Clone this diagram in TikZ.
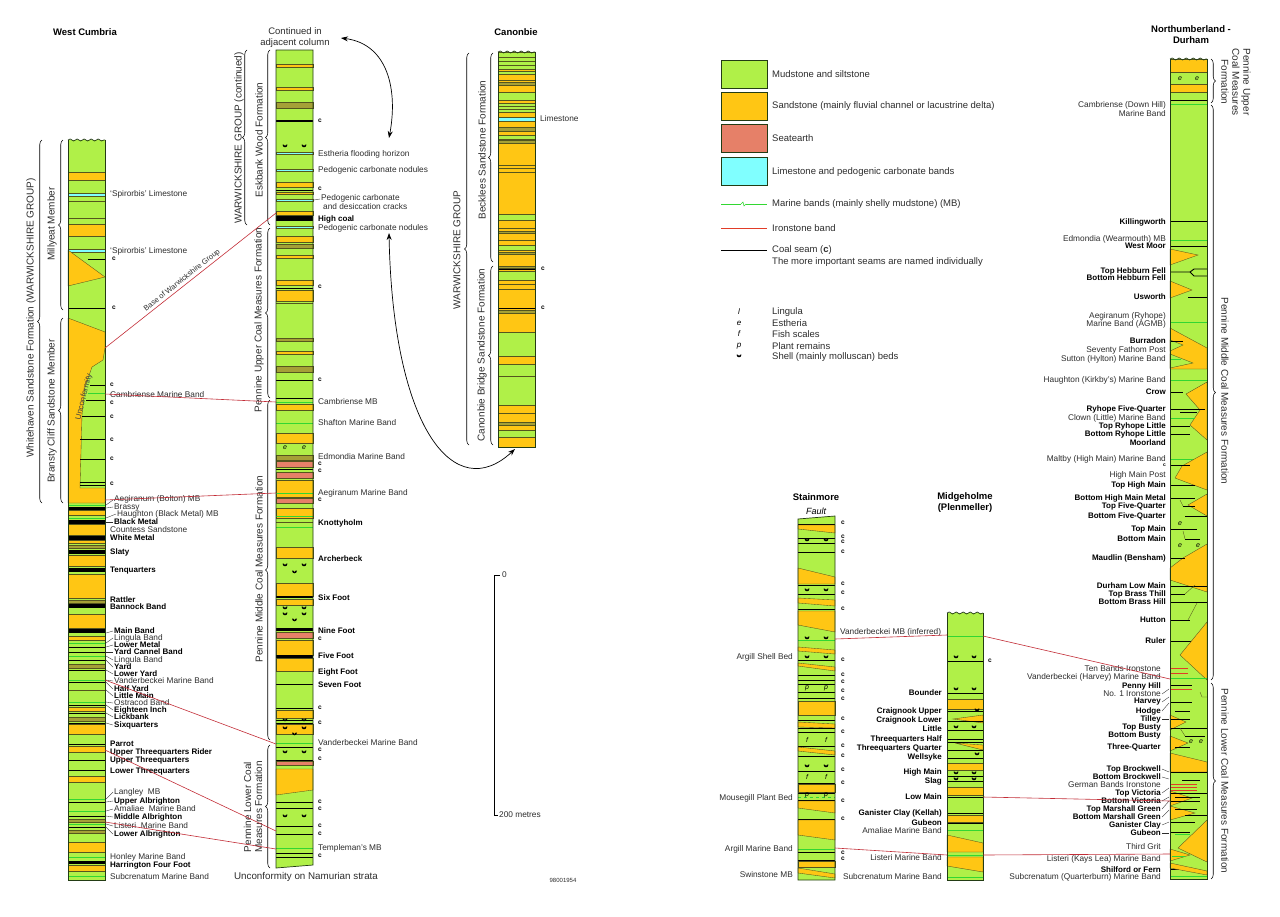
\documentclass[tikz,border=0pt]{standalone}
\usepackage{fontspec}
\setmainfont{Liberation Sans}
\usetikzlibrary{decorations.pathreplacing,decorations.pathmorphing,arrows.meta}
\definecolor{mud}{RGB}{176,240,72}
\definecolor{sand}{RGB}{255,198,20}
\definecolor{seat}{RGB}{230,128,104}
\definecolor{limec}{RGB}{128,255,255}
\definecolor{olv}{RGB}{165,160,55}
\definecolor{bndc}{RGB}{85,85,30}
\definecolor{mbc}{RGB}{50,215,50}
\definecolor{ironc}{RGB}{225,60,40}
\definecolor{corr}{RGB}{195,45,55}
\definecolor{labgray}{RGB}{45,45,45}
\definecolor{outc}{RGB}{35,60,20}
\newcounter{labc}
\newcommand\Bsand[2]{\filldraw[sandb] (\xa,#1) rectangle (\xb,#2);}
\newcommand\Bmud[2]{\filldraw[mudb] (\xa,#1) rectangle (\xb,#2);}
\newcommand\Bolive[2]{\filldraw[olvb] (\xa,#1) rectangle (\xb,#2);}
\newcommand\Bseat[2]{\filldraw[seatb] (\xa,#1) rectangle (\xb,#2);}
\newcommand\Blime[2]{\filldraw[limeb] (\xa,#1) rectangle (\xb,#2);}
\newcommand\Bcoal[1]{\draw[coalln] (\xa,#1) -- (\xb,#1);}
\newcommand\Bcoalt[2]{\fill[black] (\xa,#1) rectangle (\xb,#2);}
\newcommand\Bmb[1]{\draw[mbln] (\xa,#1) -- (\xb,#1);}
\newcommand\Bline[1]{\draw[bndln] (\xa,#1) -- (\xb,#1);}
\newcommand\Bshell[2]{\fill[black] (#1-2.5,#2-1.5) .. controls (#1-2.5,#2+2.2) and (#1+2.5,#2+2.2) .. (#1+2.5,#2-1.5) -- (#1+1.2,#2-1.5) .. controls (#1+1.2,#2+0.6) and (#1-1.2,#2+0.6) .. (#1-1.2,#2-1.5) -- cycle;}
\newcommand\Bshells[1]{\Bshell{\xa+9}{#1}\Bshell{\xb-9}{#1}}
\newcommand\Bframe[2]{\draw[colout] (\xa,#1) -- (\xa,#2) -- (\xb,#2) -- (\xb,#1);}
\newcommand\Bwavy[1]{\draw[colout,wavy] (\xa,#1) -- (\xb,#1);}
\newcommand\LW[3]{\stepcounter{labc}\node[lab,anchor=west] (lab\arabic{labc}) at (#1,#2) {#3};}
\newcommand\LWb[3]{\stepcounter{labc}\node[blab,anchor=west] (lab\arabic{labc}) at (#1,#2) {#3};}
\newcommand\LE[3]{\stepcounter{labc}\node[lab,anchor=east] (lab\arabic{labc}) at (#1,#2) {#3};}
\newcommand\LEb[3]{\stepcounter{labc}\node[blab,anchor=east] (lab\arabic{labc}) at (#1,#2) {#3};}
\newcommand\Cl[2]{\stepcounter{labc}\node[clab,anchor=west] (lab\arabic{labc}) at (#1,#2) {c};}
\newcommand\Fos[3]{\stepcounter{labc}\node[fos] (lab\arabic{labc}) at (#1,#2) {#3};}
\newcommand\Ld[4]{\draw[lead] (#1,#2) -- (#3,#4);}
\begin{document}
\begin{tikzpicture}[x=1pt,y=-1pt,
 sandb/.style={fill=sand,draw=bndc,line width=0.35pt},
 mudb/.style={fill=mud,draw=bndc,line width=0.35pt},
 olvb/.style={fill=olv,draw=bndc,line width=0.35pt},
 seatb/.style={fill=seat,draw=bndc,line width=0.35pt},
 limeb/.style={fill=limec,draw=bndc,line width=0.35pt},
 coalln/.style={draw=black,line width=0.9pt},
 mbln/.style={draw=mbc,line width=0.9pt},
 ironln/.style={draw=ironc,line width=0.9pt},
 bndln/.style={draw=bndc,line width=0.35pt},
 colout/.style={draw=outc,line width=0.7pt},
 wavy/.style={decorate,decoration={snake,amplitude=1pt,segment length=7pt}},
 brc/.style={draw=black,line width=0.55pt,decorate,decoration={brace,amplitude=4.5pt}},
 corrln/.style={draw=corr,line width=0.6pt},
 lab/.style={font=\fontsize{8.3}{8.3}\selectfont,text=labgray,inner sep=0pt},
 blab/.style={font=\bfseries\fontsize{8}{8}\selectfont,text=black,inner sep=0pt},
 clab/.style={font=\bfseries\fontsize{6.5}{6.5}\selectfont,text=black,inner sep=0pt},
 rlab/.style={font=\fontsize{10}{11}\selectfont,text=labgray,inner sep=0pt,align=center},
 ttl/.style={font=\bfseries\fontsize{9.5}{11}\selectfont,inner sep=0pt,align=center},
 leg/.style={font=\fontsize{9.5}{11}\selectfont,text=labgray,inner sep=0pt,anchor=west},
 fos/.style={font=\itshape\fontsize{7}{7}\selectfont,inner sep=0pt},
 lead/.style={draw=labgray,line width=0.35pt},
]
\useasboundingbox[fill=white] (0,0) rectangle (1280,916);

% ================= WEST CUMBRIA =================
\def\xa{68}\def\xb{105}
\fill[mud] (\xa,140) rectangle (\xb,880);
\Bsand{172}{180}
\Blime{193}{196}
\Bline{201}\Bline{218}
\Bsand{224}{236}
\Blime{249}{252}
\filldraw[sandb] (68,250) -- (105,277) -- (68,286) -- cycle;
\draw[coalln] (88,259) -- (105,259);
\Bcoal{308}
\filldraw[sandb] (68,318) -- (105,332) -- (105,348) -- (103,360) -- (92,367) -- (85,387) -- (82,415) -- (80,488) -- (105,488) -- (105,503) -- (68,503) -- cycle;
\draw[coalln] (90,385) -- (105,385);
\draw[mbln] (88,393) -- (105,393);
\draw[coalln] (86,400) -- (105,400);
\draw[coalln] (82,416) -- (105,416);
\draw[coalln] (80,439) -- (105,439);
\draw[coalln] (80,459) -- (105,459);
\draw[coalln] (80,482) -- (105,482);
\draw[coalln] (80,485) -- (105,485);
\Bmb{505}
\Bcoalt{507}{510}
\Bsand{510}{515}
\Bmb{518}
\Bcoalt{520}{524}
\Bsand{524}{535}
\Bcoalt{536}{540}
\Bsand{540}{543}
\Bolive{545}{548}
\Bcoalt{550}{554}
\Bsand{555}{566}
\Bcoalt{568}{572}
\Bsand{574}{598}
\Bolive{600}{603}
\Bcoalt{604}{608}
\Bsand{614}{628}
\Bcoalt{629}{633}
\Bsand{636}{640}
\Bmb{643}
\Bcoal{647}
\Bcoal{652}
\Bmb{656}
\Bcoal{660}
\Bolive{664}{668}
\Bcoal{670}
\Bmb{680}
\Bcoal{682}
\Bline{690}
\Bmb{702}
\Bcoal{705}
\Bsand{707}{711}
\Bcoal{713}
\Bolive{717}{721}
\Bcoal{723}
\Bsand{724}{734}
\Bcoal{744}
\Bsand{746}{752}
\Bcoal{760}
\Bcoal{770}
\Bsand{776}{782}
\Bmb{799}\Bcoal{802}
\Bmb{811}\Bcoal{816}
\Bolive{819}{822}\Bmb{824}\Bcoal{827}
\Bolive{830}{833}
\Bsand{842}{852}
\Bmb{857}
\Bcoalt{861}{864}
\Bsand{865}{871}
\Bmb{876}
\Bframe{140}{880}
\Bwavy{140}
\node[rotate=76,font=\fontsize{8}{8}\selectfont,inner sep=0pt,text=black!75] (unc) at (84,397) {Unconformity};

\node[ttl] (tWC) at (85,32) {West Cumbria};
\draw[brc] (42,503) -- (42,140);
\draw[brc] (63,310) -- (63,140);
\draw[brc] (63,503) -- (63,318);
\node[rlab,rotate=90] (rWH) at (31,318) {Whitehaven Sandstone Formation (WARWICKSHIRE GROUP)};
\node[rlab,rotate=90] (rMY) at (52,224) {Millyeat Member};
\node[rlab,rotate=90] (rBC) at (52,411) {Bransty Cliff Sandstone Member};

\LW{110}{194}{`Spirorbis' Limestone}
\LW{110}{251}{`Spirorbis' Limestone}
\Cl{112}{259}\Cl{112}{308}
\Cl{110}{385}
\LW{110}{395}{Cambriense Marine Band}
\Cl{110}{403}\Cl{110}{417}\Cl{110}{440}\Cl{110}{459}\Cl{110}{484}
\LW{114}{499}{Aegiranum (Bolton) MB}
\LW{114}{507}{Brassy}
\LW{117}{514}{Haughton (Black Metal) MB}
\LWb{114}{522}{Black Metal}
\LW{110}{530}{Countess Sandstone}
\LWb{110}{538}{White Metal}
\LWb{110}{552}{Slaty}
\LWb{110}{571}{Tenquarters}
\LWb{110}{600}{Rattler}
\LWb{110}{607}{Bannock Band}
\LWb{114}{631}{Main Band}
\LW{114}{638}{Lingula Band}
\LWb{114}{645}{Lower Metal}
\LWb{114}{652}{Yard Cannel Band}
\LW{114}{660}{Lingula Band}
\LWb{114}{667}{Yard}
\LWb{114}{674}{Lower Yard}
\LW{114}{681}{Vanderbeckei Marine Band}
\LWb{114}{689}{Half Yard}
\LWb{114}{696}{Little Main}
\LW{114}{703}{Ostracod Band}
\LWb{114}{710}{Eighteen Inch}
\LWb{114}{717}{Lickbank}
\LWb{114}{725}{Sixquarters}
\LWb{110}{744}{Parrot}
\LWb{110}{752}{Upper Threequarters Rider}
\LWb{110}{760}{Upper Threequarters}
\LWb{110}{771}{Lower Threequarters}
\LW{114}{792}{Langley\ \ MB}
\LWb{114}{801}{Upper Albrighton}
\LW{114}{809}{Amaliae\ \ Marine Band}
\LWb{114}{817}{Middle Albrighton}
\LW{114}{826}{Listeri\ \ Marine Band}
\LWb{114}{834}{Lower Albrighton}
\LW{110}{857}{Honley Marine Band}
\LWb{110}{865}{Harrington Four Foot}
\LW{110}{877}{Subcrenatum Marine Band}
\Ld{106}{505}{113}{500}\Ld{106}{508}{113}{507}\Ld{106}{518}{116}{514}\Ld{106}{522}{113}{522}
\Ld{106}{633}{113}{631}\Ld{106}{643}{113}{638}\Ld{106}{647}{113}{645}\Ld{106}{652}{113}{652}
\Ld{106}{656}{113}{660}\Ld{106}{660}{113}{667}\Ld{106}{670}{113}{674}\Ld{106}{680}{113}{681}
\Ld{106}{682}{113}{689}\Ld{106}{690}{113}{696}\Ld{106}{702}{113}{703}\Ld{106}{705}{113}{710}
\Ld{106}{713}{113}{717}\Ld{106}{723}{113}{725}
\Ld{106}{799}{113}{792}\Ld{106}{802}{113}{801}\Ld{106}{811}{113}{809}\Ld{106}{816}{113}{817}
\Ld{106}{824}{113}{826}\Ld{106}{827}{113}{834}

% ================= MIDDLE COLUMN =================
\def\xa{276}\def\xb{313}
\fill[mud] (\xa,50) -- (\xb,50) -- (\xb,865) -- (\xa,868) -- cycle;
\Bsand{64}{67}
\Bsand{87}{90}
\Bolive{102}{108}
\Bcoalt{120}{122}
\Bshells{146}
\Blime{152}{154}
\Blime{169}{171}
\Bsand{182}{187}
\Bcoal{190}
\Bsand{192}{194}
\Blime{199}{201}
\Bsand{211}{215}
\Bcoalt{216}{221}
\Blime{226}{228}
\Bsand{236}{242}
\Bolive{244}{248}
\Bsand{255}{258}
\Bsand{280}{285}
\Bcoal{288}
\Bsand{290}{301}
\Bline{303}
\Bolive{338}{341}
\Bsand{351}{354}
\Bolive{366}{372}
\Bcoal{380}
\Bcoal{398}
\Bmb{402}
\Bsand{404}{410}
\Bmb{423}
\Bsand{433}{443}
\Fos{285}{448}{e}\Fos{304}{448}{e}
\Bolive{455}{460}
\Bseat{461}{467}
\Bcoal{469}
\Bseat{472}{478}
\Bsand{480}{497}
\Bmb{493}
\Bseat{498}{503}
\Bsand{508}{518}
\Bmb{516}
\Bline{522}
\Bmb{527}
\Bsand{547}{558}
\Bshells{565}\Bshell{294.5}{572}
\Bsand{583}{596}
\Bcoalt{596}{598}
\Bsand{599}{605}
\Bshells{608}\Bshells{614}\Bshell{294.5}{620}
\Bcoalt{628}{631}
\Bseat{632}{638}
\Bsand{640}{655}
\Bcoalt{655}{658}
\Bsand{658}{671}
\Bcoal{684}
\Bcoal{708}
\Bsand{710}{718}
\Bcoal{720}\Bshells{720}
\Bcoal{723}
\Bsand{724}{734}
\Bshells{728}\Bshell{294.5}{734}
\Bmb{743}
\Bcoal{747}
\Bshells{752}
\Bcoal{760}
\Bseat{761}{765}
\filldraw[sandb] (276,769) -- (313,769) -- (313,790) -- (276,795) -- cycle;
\Bcoal{802}\Bcoal{808}
\Bshells{816}
\Bcoal{826}\Bcoal{834}
\Bmb{848}
\Bcoal{853}\Bcoal{857}
\draw[colout] (\xa,50) -- (\xb,50) -- (\xb,865) -- (\xa,868) -- cycle;

\node[font=\fontsize{9.5}{11}\selectfont,align=center,inner sep=0pt,text=labgray] (cont) at (295,38) {Continued in\\adjacent column};
\draw[brc] (247,225) -- (247,50);
\draw[brc] (270,225) -- (270,50);
\draw[brc] (270,398) -- (270,228);
\draw[brc] (270,740) -- (270,400);
\draw[brc] (270,868) -- (270,745);
\node[rlab,rotate=90] (rWG) at (239,138) {WARWICKSHIRE GROUP (continued)};
\node[rlab,rotate=90] (rEW) at (259,140) {Eskbank Wood Formation};
\node[rlab,rotate=90] (rPU) at (259,320) {Pennine Upper Coal Measures Formation};
\node[rlab,rotate=90] (rPM) at (259,569) {Pennine Middle Coal Measures Formation};
\node[rlab,rotate=90] (rPL) at (253,807) {Pennine Lower Coal\\Measures Formation};

\Cl{318}{121}
\LW{318}{154}{Estheria flooding horizon}
\LW{318}{170}{Pedogenic carbonate nodules}
\Cl{318}{189}
\LW{321}{198}{Pedogenic carbonate}
\LW{323}{207}{and desiccation cracks}
\Ld{314}{200}{320}{199}
\LWb{318}{219}{High coal}
\LW{318}{228}{Pedogenic carbonate nodules}
\Cl{318}{287}\Cl{318}{380}
\LW{318}{402}{Cambriense MB}
\LW{318}{423}{Shafton Marine Band}
\LW{318}{457}{Edmondia Marine Band}
\Cl{318}{464}\Cl{318}{471}
\LW{318}{493}{Aegiranum Marine Band}
\Cl{318}{500}
\LWb{318}{523}{Knottyholm}
\LWb{318}{559}{Archerbeck}
\LWb{318}{598}{Six Foot}
\LWb{318}{631}{Nine Foot}
\Cl{318}{639}
\LWb{318}{656}{Five Foot}
\LWb{318}{672}{Eight Foot}
\LWb{318}{685}{Seven Foot}
\Cl{318}{708}\Cl{318}{723}
\LW{318}{743}{Vanderbeckei Marine Band}
\Cl{318}{750}\Cl{318}{759}
\Cl{318}{802}\Cl{318}{809}\Cl{318}{826}\Cl{318}{834}
\LW{318}{848}{Templeman's MB}
\Cl{318}{856}
\node[font=\fontsize{9.8}{11}\selectfont,inner sep=0pt,text=labgray] (unam) at (306,877) {Unconformity on Namurian strata};

% ================= CANONBIE =================
\def\xa{498}\def\xb{535}
\fill[sand] (\xa,52) rectangle (\xb,447);
\Bmud{52}{69}\Bline{57}\Bline{61}\Bline{65}
\Bmud{71}{74}
\Bline{80}
\Bolive{82}{85}
\Bmud{92}{100}
\Bmud{103}{112}\Bline{106}\Bline{109}
\Blime{117}{121}
\Bolive{127}{131}
\Bmud{135}{139}
\Bolive{140}{143}
\Bline{165}\Bline{168}\Bline{172}
\Bmud{214}{220}
\Bline{228}\Bolive{231}{233}
\Bline{240}
\Bmud{245}{250}
\Bolive{252}{254}
\Bolive{266}{268}\Bcoal{269}
\Bmud{271}{280}
\Bline{284}\Bline{289}
\Bcoal{308}
\Bolive{310}{313}
\Bmud{332}{356}
\Bmud{364}{376}
\Bmud{376}{405}
\Bline{413}
\Bolive{422}{425}
\Bmud{430}{437}
\Bframe{52}{447}
\Bwavy{52}
\node[ttl] (tCN) at (516,32) {Canonbie};
\draw[brc] (469,445) -- (469,53);
\draw[brc] (493,262) -- (493,53);
\draw[brc] (493,445) -- (493,266);
\node[rlab,rotate=90] (rCW) at (457,250) {WARWICKSHIRE GROUP};
\node[rlab,rotate=90] (rBK) at (482,150) {Becklees Sandstone Formation};
\node[rlab,rotate=90] (rCB) at (482,355) {Canonbie Bridge Sandstone Formation};
\LW{540}{119}{Limestone}
\Cl{541}{269}\Cl{541}{308}

% arrows
\coordinate (arA1) at (341,38);
\coordinate (arA2) at (389,138);
\coordinate (arB1) at (389,233);
\coordinate (arB2) at (515,449);
\draw[{Stealth[length=7pt,width=5pt]}-{Stealth[length=7pt,width=5pt]},line width=0.7pt] (arA1) .. controls (388,44) and (398,90) .. (arA2);
\draw[{Stealth[length=7pt,width=5pt]}-{Stealth[length=7pt,width=5pt]},line width=0.7pt] (arB1) .. controls (393,430) and (455,505) .. (arB2);

% scale bar
\coordinate (sc0) at (494,575);
\coordinate (sc1) at (494,815);
\draw[line width=0.6pt] (500,575) -- (sc0) -- (sc1) -- (498,815);
\node[font=\fontsize{8.3}{8.3}\selectfont,inner sep=0pt,anchor=west,text=labgray] (sct0) at (502,575) {0};
\node[font=\fontsize{8.3}{8.3}\selectfont,inner sep=0pt,anchor=west,text=labgray] (sct1) at (499,815) {200 metres};
\node[font=\fontsize{6}{6}\selectfont,inner sep=0pt,text=labgray] (fig) at (563,880) {98001954};

% ================= LEGEND =================
\filldraw[fill=mud,draw=outc,line width=0.6pt] (721,60) rectangle (767,88);
\filldraw[fill=sand,draw=outc,line width=0.6pt] (721,92) rectangle (767,120);
\filldraw[fill=seat,draw=outc,line width=0.6pt] (721,124) rectangle (767,152);
\filldraw[fill=limec,draw=outc,line width=0.6pt] (721,157) rectangle (767,185);
\node[leg] (lg1) at (772,74) {Mudstone and siltstone};
\node[leg] (lg2) at (772,106) {Sandstone (mainly fluvial channel or lacustrine delta)};
\node[leg] (lg3) at (772,138) {Seatearth};
\node[leg] (lg4) at (772,172) {Limestone and pedogenic carbonate bands};
\draw[mbln] (721,204) -- (741,204); \draw[mbln] (746,204) -- (767,204);
\draw[mbc,line width=0.5pt] (741,204) -- (743,202) -- (744,206) -- (746,204);
\node[leg] (lg5) at (772,204) {Marine bands (mainly shelly mudstone) (MB)};
\draw[ironln] (721,228) -- (767,228);
\node[leg] (lg6) at (772,228) {Ironstone band};
\draw[coalln] (721,250) -- (767,250);
\node[leg] (lg7) at (772,250) {Coal seam (\textbf{c})};
\node[leg] (lg8) at (772,262) {The more important seams are named individually};
\node[fos,font=\itshape\fontsize{8}{8}\selectfont] (fs1) at (739,312) {l};
\node[fos,font=\itshape\fontsize{8}{8}\selectfont] (fs2) at (739,323) {e};
\node[fos,font=\itshape\fontsize{8}{8}\selectfont] (fs3) at (739,334) {f};
\node[fos,font=\itshape\fontsize{8}{8}\selectfont] (fs4) at (739,346) {p};
\Bshell{739}{356}
\node[leg] (lf1) at (772,312) {Lingula};
\node[leg] (lf2) at (772,323) {Estheria};
\node[leg] (lf3) at (772,334) {Fish scales};
\node[leg] (lf4) at (772,346) {Plant remains};
\node[leg] (lf5) at (772,357) {Shell (mainly molluscan) beds};

% ================= STAINMORE =================
\def\xa{798}\def\xb{835}
\fill[mud] (\xa,519) -- (\xb,516) -- (\xb,880) -- (\xa,880) -- cycle;
\Bcoal{524}
\filldraw[sandb] (798,525) -- (835,525) -- (835,533) -- (798,529) -- cycle;
\Bcoal{538}\Bshells{540}\Bcoal{543}
\Bcoal{552}
\filldraw[sandb] (798,568) -- (835,577) -- (835,584) -- (798,584) -- cycle;
\Bcoal{585}\Bshells{590}\Bcoal{594}
\filldraw[sandb] (798,598) -- (835,600) -- (835,606) -- (798,603) -- cycle;
\Bcoal{609}
\filldraw[sandb] (798,611) -- (835,611) -- (835,632) -- (798,625) -- cycle;
\Bshells{638}\Bmb{640}
\filldraw[sandb] (798,647) -- (835,650) -- (835,654) -- (798,651) -- cycle;
\Bshells{657}\Bcoal{660}
\filldraw[sandb] (798,663) -- (835,667) -- (835,671) -- (798,666) -- cycle;
\Bcoal{675}\Bcoal{680}\Bcoal{684}
\Fos{807}{688}{p}\Fos{826}{688}{p}
\Bcoal{692}\Bcoal{698}
\Bsand{701}{715}
\Bcoal{720}
\filldraw[sandb] (798,722) -- (835,724) -- (835,728) -- (798,727) -- cycle;
\Bcoal{728}\Bcoal{732}
\Fos{807}{740}{f}\Fos{826}{740}{f}
\Bcoal{746}
\filldraw[sandb] (798,747) -- (835,751) -- (835,755) -- (798,751) -- cycle;
\Bcoal{756}
\Bshells{766}
\Bcoal{771}
\Fos{807}{777}{f}\Fos{826}{777}{f}
\Bcoal{783}
\Bsand{784}{792}
\Bcoal{793}
\draw[mbc,line width=0.8pt,dashed] (\xa,797) -- (\xb,797);
\Fos{807}{795}{p}\Fos{826}{795}{p}
\Bcoal{800}
\filldraw[sandb] (798,801) -- (835,801) -- (835,813) -- (798,808) -- cycle;
\Bcoal{819}
\filldraw[sandb] (798,820) -- (835,820) -- (835,840) -- (798,835) -- cycle;
\Bmb{849}
\Bcoal{852}\Bcoal{860}
\Bsand{861}{867}
\filldraw[sandb] (798,868) -- (835,874) -- (835,878) -- (798,873) -- cycle;
\draw[colout] (\xa,519) -- (\xb,516) -- (\xb,880) -- (\xa,880) -- cycle;
\node[ttl] (tST) at (816,497) {Stainmore};
\node[font=\itshape\fontsize{9}{9}\selectfont,inner sep=0pt] (tFT) at (816,511) {Fault};
\foreach \yy in {523,537,542,552,584,593,609,660,675,682,691,699,719,732,746,756,770,783,801,819,853,859} {\Cl{841}{\yy}}
\LW{840}{632}{Vanderbeckei MB (inferred)}
\LE{793}{657}{Argill Shell Bed}
\LE{793}{798}{Mousegill Plant Bed}
\LE{793}{849}{Argill Marine Band}
\LE{793}{875}{Swinstone MB}

% ================= MIDGEHOLME =================
\def\xa{947}\def\xb{983}
\fill[mud] (\xa,613) rectangle (\xb,880);
\Bmb{636}
\Bshells{657}\Bcoal{661}
\Bshells{689}\Bcoal{693}
\Bsand{699}{709}
\Bcoal{711}\Bshell{977}{710}
\filldraw[sandb] (983,715) -- (953,719) -- (983,723) -- cycle;
\Bcoal{721}
\Bshells{727}
\Bcoal{730}
\Bcoal{739}\Bcoal{742}
\filldraw[sandb] (955,743) -- (983,745) -- (983,750) -- cycle;
\Bcoal{750}
\Bshell{977}{754}
\Bcoal{758}
\Bsand{763}{770}
\Bshells{773}
\Bcoal{776}\Bshells{779}\Bcoal{781}
\Bsand{787}{795}
\Bcoal{797}
\Bcoal{813}
\Bsand{815}{822}
\Bcoal{823}
\Bmb{830}
\filldraw[sandb] (947,835) -- (983,843) -- (983,852) -- (947,852) -- cycle;
\Bmb{855}
\filldraw[sandb] (947,857) -- (983,857) -- (983,872) -- (947,866) -- cycle;
\Bmb{877}
\Bframe{613}{880}
\Bwavy{613}
\node[ttl] (tMG) at (965,503) {Midgeholme\\(Plenmeller)};
\Cl{988}{661}
\LEb{942}{693}{Bounder}
\LEb{942}{711}{Craignook Upper}
\LEb{942}{720}{Craignook Lower}
\LEb{942}{729}{Little}
\LEb{942}{739}{Threequarters Half}
\LEb{942}{748}{Threequarters Quarter}
\LEb{942}{757}{Wellsyke}
\LEb{942}{772}{High Main}
\LEb{942}{781}{Slag}
\LEb{942}{797}{Low Main}
\LEb{942}{813}{Ganister Clay (Kellah)}
\LEb{942}{823}{Gubeon}
\LE{942}{831}{Amaliae Marine Band}
\LE{942}{858}{Listeri Marine Band}
\LE{942}{877}{Subcrenatum Marine Band}

% ================= NORTHUMBERLAND - DURHAM =================
\def\xa{1170}\def\xb{1207}
\fill[mud] (\xa,59) rectangle (\xb,879);
\Bsand{59}{72}
\Fos{1180}{79}{e}\Fos{1197}{79}{e}
\Bsand{84}{92}
\Bcoal{100}\Bmb{104}
\Bcoal{221}
\Bmb{240}
\Bcoal{246}
\filldraw[sandb] (1170,249) -- (1198,255) -- (1170,265) -- cycle;
\draw[coalln] (1170,272) -- (1190,272) -- (1194,269) -- (1207,269);
\draw[coalln] (1190,272) -- (1194,276) -- (1207,276);
\filldraw[sandb] (1170,281) -- (1192,290) -- (1170,298) -- cycle;
\draw[coalln] (1188,297) -- (1207,297);
\Bmb{322}
\filldraw[sandb] (1170,328) -- (1207,348) -- (1207,369) -- (1170,369) -- cycle;
\filldraw[mudb] (1170,340) -- (1183,345) -- (1170,351) -- cycle;
\filldraw[mudb] (1170,354) -- (1193,363) -- (1170,368) -- cycle;
\draw[coalln] (1170,341) -- (1183,341);
\draw[mbln] (1170,359) -- (1181,359);
\Bmb{380}
\filldraw[sandb] (1207,382) -- (1186,394) -- (1200,410) -- (1190,425) -- (1207,440) -- cycle;
\draw[coalln] (1170,392) -- (1183,392);
\draw[coalln] (1170,409) -- (1205,409);
\draw[coalln] (1180,412) -- (1197,412);
\draw[mbln] (1170,418) -- (1195,418);
\draw[coalln] (1170,426) -- (1190,426);
\draw[coalln] (1170,434) -- (1190,434);
\Bmb{459}
\filldraw[sandb] (1207,452) -- (1182,466) -- (1175,478) -- (1207,490) -- cycle;
\draw[coalln] (1170,465) -- (1190,465);
\draw[coalln] (1170,485) -- (1195,485);
\filldraw[sandb] (1207,494) -- (1188,505) -- (1207,516) -- cycle;
\draw[coalln] (1170,498) -- (1195,498);
\draw[coalln] (1183,506) -- (1195,506);
\draw[bndln] (1180,500) -- (1183,506);
\draw[coalln] (1185,516) -- (1207,516);
\Fos{1180}{524}{e}
\draw[coalln] (1170,529) -- (1197,529);
\draw[coalln] (1185,539) -- (1200,539);
\draw[bndln] (1183,531) -- (1185,539);
\Fos{1180}{546}{e}\Fos{1198}{546}{e}
\filldraw[sandb] (1207,544) -- (1183,558) -- (1170,568) -- (1170,580) -- (1207,592) -- cycle;
\draw[coalln] (1170,558) -- (1185,558);
\draw[coalln] (1170,586) -- (1207,586);
\draw[coalln] (1170,594) -- (1185,594);
\draw[bndln] (1185,594) -- (1195,585);
\draw[coalln] (1170,602) -- (1207,602);
\draw[bndln] (1197,603) -- (1188,620);
\draw[coalln] (1170,620) -- (1190,620);
\draw[coalln] (1170,641) -- (1200,641);
\filldraw[sandb] (1207,622) -- (1180,655) -- (1207,680) -- cycle;
\draw[ironln] (1170,668) -- (1188,668);
\draw[ironln] (1170,673) -- (1188,673);
\Bmb{678}
\draw[coalln] (1170,685) -- (1192,685);
\draw[ironln] (1170,689) -- (1192,689);
\draw[bndln] (1200,692) -- (1202,697) -- (1207,697);
\draw[coalln] (1170,702) -- (1192,702);
\draw[coalln] (1175,711) -- (1190,711);
\filldraw[sandb] (1170,715) -- (1186,722) -- (1170,730) -- cycle;
\draw[coalln] (1170,719) -- (1190,719);
\draw[coalln] (1170,728) -- (1207,728);
\draw[coalln] (1185,736) -- (1205,736);
\draw[bndln] (1180,728) -- (1185,736);
\filldraw[sandb] (1170,736) -- (1188,743) -- (1170,751) -- cycle;
\Fos{1191}{742}{e}\Fos{1201}{742}{e}
\draw[coalln] (1175,747) -- (1190,747);
\filldraw[sandb] (1170,753) -- (1207,762) -- (1207,772) -- (1170,772) -- cycle;
\draw[coalln] (1170,772) -- (1207,772);
\draw[coalln] (1182,780) -- (1200,780);
\draw[ironln] (1170,784) -- (1197,784);
\draw[ironln] (1170,787) -- (1197,787);
\draw[ironln] (1170,790) -- (1197,790);
\filldraw[sandb] (1170,791) -- (1192,798) -- (1170,806) -- cycle;
\draw[coalln] (1170,793) -- (1207,793);
\draw[coalln] (1175,797) -- (1200,797);
\draw[coalln] (1170,801) -- (1200,801);
\filldraw[sandb] (1170,806) -- (1195,813) -- (1170,820) -- cycle;
\draw[coalln] (1175,809) -- (1197,809);
\draw[coalln] (1185,815) -- (1207,815);
\draw[coalln] (1170,822) -- (1195,822);
\filldraw[sandb] (1207,820) -- (1178,848) -- (1207,862) -- cycle;
\draw[coalln] (1170,832) -- (1190,832);
\draw[mbln] (1175,834) -- (1190,834);
\filldraw[sandb] (1170,849) -- (1190,855) -- (1170,861) -- cycle;
\draw[mbln] (1172,856) -- (1185,856);
\draw[coalln] (1170,869) -- (1192,869);
\filldraw[sandb] (1170,863) -- (1207,871) -- (1207,875) -- (1170,868) -- cycle;
\Bmb{876}
\Bframe{59}{879}
\Bwavy{59}
\node[ttl] (tND) at (1191,35) {Northumberland -\\Durham};
\draw[brc] (1211,59) -- (1211,103);
\draw[brc] (1211,105) -- (1211,680);
\draw[brc] (1211,683) -- (1211,879);
\node[rlab,rotate=-90] (rNU) at (1236,82) {Pennine Upper\\Coal Measures\\Formation};
\node[rlab,rotate=-90] (rNM) at (1225,391) {Pennine Middle Coal Measures Formation};
\node[rlab,rotate=-90] (rNL) at (1225,781) {Pennine Lower Coal Measures Formation};

\LE{1166}{105}{Cambriense (Down Hill)}
\LE{1166}{114}{Marine Band}
\LEb{1166}{222}{Killingworth}
\LE{1166}{239}{Edmondia (Wearmouth) MB}
\LEb{1166}{246}{West Moor}
\LEb{1166}{271}{Top Hebburn Fell}
\LEb{1166}{278}{Bottom Hebburn Fell}
\LEb{1166}{297}{Usworth}
\LE{1166}{316}{Aegiranum (Ryhope)}
\LE{1166}{324}{Marine Band (AGMB)}
\LEb{1166}{341}{Burradon}
\LE{1166}{350}{Seventy Fathom Post}
\LE{1166}{359}{Sutton (Hylton) Marine Band}
\LE{1166}{380}{Haughton (Kirkby's) Marine Band}
\LEb{1166}{392}{Crow}
\LEb{1166}{409}{Ryhope Five-Quarter}
\LE{1166}{418}{Clown (Little) Marine Band}
\LEb{1166}{426}{Top Ryhope Little}
\LEb{1166}{434}{Bottom Ryhope Little}
\LEb{1166}{443}{Moorland}
\LE{1166}{459}{Maltby (High Main) Marine Band}
\stepcounter{labc}\node[clab,anchor=east,font=\bfseries\fontsize{5}{5}\selectfont] (lab\arabic{labc}) at (1166,465) {c};
\LE{1166}{475}{High Main Post}
\LEb{1166}{485}{Top High Main}
\LEb{1166}{498}{Bottom High Main Metal}
\LEb{1166}{506}{Top Five-Quarter}
\LEb{1166}{516}{Bottom Five-Quarter}
\LEb{1166}{529}{Top Main}
\LEb{1166}{539}{Bottom Main}
\LEb{1166}{558}{Maudlin (Bensham)}
\LEb{1166}{586}{Durham Low Main}
\LEb{1166}{594}{Top Brass Thill}
\LEb{1166}{602}{Bottom Brass Hill}
\LEb{1166}{620}{Hutton}
\LEb{1166}{641}{Ruler}
\LE{1161}{669}{Ten Bands Ironstone}
\LE{1161}{677}{Vanderbeckei (Harvey) Marine Band}
\LEb{1161}{686}{Penny Hill}
\LE{1161}{694}{No. 1 Ironstone}
\LEb{1161}{702}{Harvey}
\LEb{1161}{711}{Hodge}
\LEb{1161}{719}{Tilley}
\LEb{1161}{728}{Top Busty}
\LEb{1161}{736}{Bottom Busty}
\LEb{1161}{747}{Three-Quarter}
\LEb{1161}{769}{Top Brockwell}
\LEb{1161}{777}{Bottom Brockwell}
\LE{1161}{785}{German Bands Ironstone}
\LEb{1161}{793}{Top Victoria}
\LEb{1161}{801}{Bottom Victoria}
\LEb{1161}{809}{Top Marshall Green}
\LEb{1161}{817}{Bottom Marshall Green}
\LEb{1161}{825}{Ganister Clay}
\LEb{1161}{833}{Gubeon}
\LE{1161}{847}{Third Grit}
\LE{1161}{859}{Listeri (Kays Lea) Marine Band}
\LEb{1161}{870}{Shilford or Fern}
\LE{1161}{877}{Subcrenatum (Quarterburn) Marine Band}
\Ld{1162}{694}{1169}{689}\Ld{1162}{702}{1169}{697}\Ld{1162}{711}{1169}{703}\Ld{1162}{719}{1169}{719}
\Ld{1162}{769}{1169}{772}\Ld{1162}{777}{1169}{779}\Ld{1162}{793}{1169}{788}\Ld{1162}{801}{1169}{797}
\Ld{1162}{809}{1169}{801}\Ld{1162}{817}{1169}{810}\Ld{1162}{825}{1169}{822}\Ld{1162}{833}{1169}{833}

% ================= CORRELATION LINES =================
\coordinate (wcBase) at (105,348); \coordinate (mcBase) at (276,213);
\coordinate (wcCam) at (105,394); \coordinate (mcCam) at (276,402);
\coordinate (wcAeg) at (105,500); \coordinate (mcAeg) at (276,493);
\coordinate (wcVan) at (105,680); \coordinate (mcVan) at (276,744);
\coordinate (wcUT) at (105,750); \coordinate (mcUT) at (276,831);
\coordinate (wcLis) at (105,822); \coordinate (mcLis) at (276,849);
\coordinate (stVan) at (835,639); \coordinate (mgVanL) at (947,635);
\coordinate (mgVanR) at (983,636); \coordinate (ndVan) at (1170,679);
\coordinate (mgLow) at (983,797); \coordinate (ndLow) at (1170,801);
\coordinate (stArg) at (835,848); \coordinate (mgArgL) at (947,855);
\coordinate (mgArgR) at (983,855); \coordinate (ndArg) at (1170,854);
\draw[corrln] (wcBase) -- node[pos=0.47,sloped,above,inner sep=1.5pt,font=\fontsize{7.5}{7.5}\selectfont,text=labgray] (bwg) {Base of Warwickshire Group} (mcBase);
\draw[corrln] (wcCam) -- (mcCam);
\draw[corrln] (wcAeg) -- (mcAeg);
\draw[corrln] (wcVan) -- (mcVan);
\draw[corrln] (wcUT) -- (mcUT);
\draw[corrln] (wcLis) -- (mcLis);
\draw[corrln] (stVan) -- (mgVanL);
\draw[corrln] (mgVanR) -- (ndVan);
\draw[corrln] (mgLow) -- (ndLow);
\draw[corrln] (stArg) -- (mgArgL);
\draw[corrln] (mgArgR) -- (ndArg);
\end{tikzpicture}
\end{document}
